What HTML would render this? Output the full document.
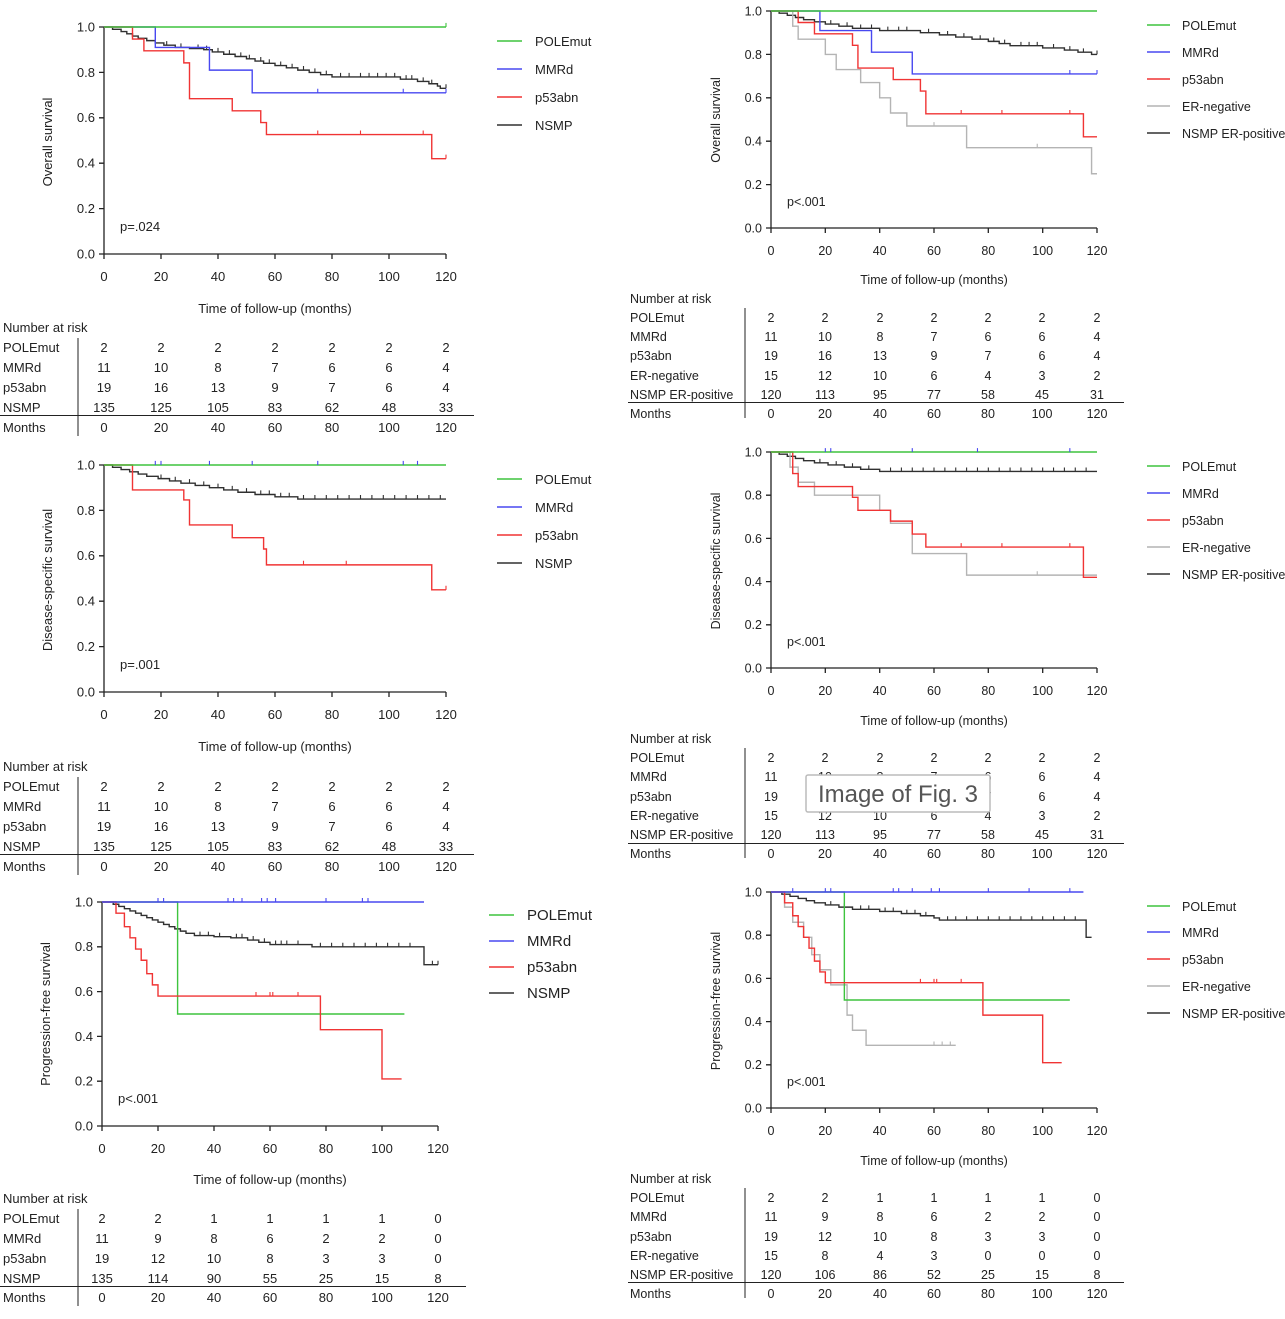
<!DOCTYPE html>
<html><head><meta charset="utf-8">
<style>
html,body{margin:0;padding:0;background:#fff;}
svg{display:block;font-family:"Liberation Sans",Arial,sans-serif;}
.t{font-size:13px;fill:#222;}
.r{font-size:12.5px;fill:#222;}
.c path{fill:none;vector-effect:non-scaling-stroke;stroke-width:1.4;}
.c .tk{stroke-width:1.1;}
.g{stroke:#3ec43e}.b{stroke:#4848f0}.rd{stroke:#f03434}.e{stroke:#b4b4b4}.k{stroke:#303030}
.ax{stroke:#222;stroke-width:1.3;fill:none}
</style></head>
<body>
<svg width="1285" height="1319" viewBox="0 0 1285 1319" xmlns="http://www.w3.org/2000/svg">
<rect width="1285" height="1319" fill="#fff"/>

<!-- ===== AXES ===== -->
<path class="ax" d="M104,27V254H446 M99,254H104M99,208.6H104M99,163.2H104M99,117.8H104M99,72.4H104M99,27H104 M104,254v5M161,254v5M218,254v5M275,254v5M332,254v5M389,254v5M446,254v5"/>
<path class="ax" d="M104,465V692H446 M99,692H104M99,646.6H104M99,601.2H104M99,555.8H104M99,510.4H104M99,465H104 M104,692v5M161,692v5M218,692v5M275,692v5M332,692v5M389,692v5M446,692v5"/>
<path class="ax" d="M102,902V1126H438 M97,1126H102M97,1081.2H102M97,1036.4H102M97,991.6H102M97,946.8H102M97,902H102 M102,1126v5M158,1126v5M214,1126v5M270,1126v5M326,1126v5M382,1126v5M438,1126v5"/>
<path class="ax" d="M771,11V228H1097 M766,228H771M766,184.6H771M766,141.2H771M766,97.8H771M766,54.4H771M766,11H771 M771,228v5M825.3,228v5M879.7,228v5M934,228v5M988.3,228v5M1042.7,228v5M1097,228v5"/>
<path class="ax" d="M771,452V668H1097 M766,668H771M766,624.8H771M766,581.6H771M766,538.4H771M766,495.2H771M766,452H771 M771,668v5M825.3,668v5M879.7,668v5M934,668v5M988.3,668v5M1042.7,668v5M1097,668v5"/>
<path class="ax" d="M771,892V1108H1097 M766,1108H771M766,1064.8H771M766,1021.6H771M766,978.4H771M766,935.2H771M766,892H771 M771,1108v5M825.3,1108v5M879.7,1108v5M934,1108v5M988.3,1108v5M1042.7,1108v5M1097,1108v5"/>

<!-- y tick labels -->
<g class="t" text-anchor="end">
<text x="95"><tspan x="95" y="258.5">0.0</tspan><tspan x="95" y="213">0.2</tspan><tspan x="95" y="167.5">0.4</tspan><tspan x="95" y="122">0.6</tspan><tspan x="95" y="77">0.8</tspan><tspan x="95" y="31.5">1.0</tspan></text>
<text x="95"><tspan x="95" y="696.5">0.0</tspan><tspan x="95" y="651">0.2</tspan><tspan x="95" y="605.5">0.4</tspan><tspan x="95" y="560">0.6</tspan><tspan x="95" y="515">0.8</tspan><tspan x="95" y="469.5">1.0</tspan></text>
<text x="93"><tspan x="93" y="1130.5">0.0</tspan><tspan x="93" y="1085.5">0.2</tspan><tspan x="93" y="1041">0.4</tspan><tspan x="93" y="996">0.6</tspan><tspan x="93" y="951">0.8</tspan><tspan x="93" y="906.5">1.0</tspan></text>
</g>
<g class="r" text-anchor="end">
<text x="762"><tspan x="762" y="232.5">0.0</tspan><tspan x="762" y="189">0.2</tspan><tspan x="762" y="145.5">0.4</tspan><tspan x="762" y="102">0.6</tspan><tspan x="762" y="59">0.8</tspan><tspan x="762" y="15.5">1.0</tspan></text>
<text x="762"><tspan x="762" y="672.5">0.0</tspan><tspan x="762" y="629">0.2</tspan><tspan x="762" y="586">0.4</tspan><tspan x="762" y="543">0.6</tspan><tspan x="762" y="499.5">0.8</tspan><tspan x="762" y="456.5">1.0</tspan></text>
<text x="762"><tspan x="762" y="1112.5">0.0</tspan><tspan x="762" y="1069">0.2</tspan><tspan x="762" y="1026">0.4</tspan><tspan x="762" y="983">0.6</tspan><tspan x="762" y="939.5">0.8</tspan><tspan x="762" y="896.5">1.0</tspan></text>
</g>
<!-- x tick labels -->
<g class="t" text-anchor="middle">
<text y="281"><tspan x="104">0</tspan><tspan x="161">20</tspan><tspan x="218">40</tspan><tspan x="275">60</tspan><tspan x="332">80</tspan><tspan x="389">100</tspan><tspan x="446">120</tspan></text>
<text y="719"><tspan x="104">0</tspan><tspan x="161">20</tspan><tspan x="218">40</tspan><tspan x="275">60</tspan><tspan x="332">80</tspan><tspan x="389">100</tspan><tspan x="446">120</tspan></text>
<text y="1153"><tspan x="102">0</tspan><tspan x="158">20</tspan><tspan x="214">40</tspan><tspan x="270">60</tspan><tspan x="326">80</tspan><tspan x="382">100</tspan><tspan x="438">120</tspan></text>
</g>
<g class="r" text-anchor="middle">
<text y="255"><tspan x="771">0</tspan><tspan x="825.3">20</tspan><tspan x="879.7">40</tspan><tspan x="934">60</tspan><tspan x="988.3">80</tspan><tspan x="1042.7">100</tspan><tspan x="1097">120</tspan></text>
<text y="695"><tspan x="771">0</tspan><tspan x="825.3">20</tspan><tspan x="879.7">40</tspan><tspan x="934">60</tspan><tspan x="988.3">80</tspan><tspan x="1042.7">100</tspan><tspan x="1097">120</tspan></text>
<text y="1135"><tspan x="771">0</tspan><tspan x="825.3">20</tspan><tspan x="879.7">40</tspan><tspan x="934">60</tspan><tspan x="988.3">80</tspan><tspan x="1042.7">100</tspan><tspan x="1097">120</tspan></text>
</g>

<!-- ===== CURVES ===== -->
<!-- L1 OS -->
<g class="c" transform="translate(104,254) scale(2.85,-2.27)">
<path class="k" d="M0,100H3V99H6V98H8V97H10V96H12V95H15V94H18V93H21V92H25V91H30V90.5H35V90H38V89H42V88H46V87H50V86H53V85H56V84H60V83H64V82H68V81H72V80H76V79H80V78H104V77H110V76H114V75H117V74H118V73H120"/>
<path class="k tk" d="M22,92v1.8M27,91v1.8M33,90.5v1.8M36,90v1.8M40,89v1.8M44,88v1.8M48,87v1.8M51,86v1.8M55,85v1.8M58,84v1.8M62,83v1.8M66,82v1.8M70,81v1.8M74,80v1.8M78,79v1.8M83,78v1.8M86,78v1.8M90,78v1.8M93,78v1.8M96,78v1.8M99,78v1.8M102,78v1.8M106,77v1.8M108,77v1.8M112,76v1.8M115,75v1.8M120,73v1.8"/>
<path class="b" d="M0,100H18V91H37V81H52V71H120"/>
<path class="b tk" d="M75,71v1.8M105,71v1.8M120,71v1.8"/>
<path class="rd" d="M0,100H10V94.7H14V89.5H28V84.2H30V68.4H45V63.1H55V57.9H57V52.6H115V42H120"/>
<path class="rd tk" d="M75,52.6v1.8M90,52.6v1.8M112,52.6v1.8M120,42v1.8"/>
<path class="g" d="M0,100H120"/>
<path class="g tk" d="M120,100v1.8"/>
</g>
<!-- L2 DSS -->
<g class="c" transform="translate(104,692) scale(2.85,-2.27)">
<path class="k" d="M0,100H3V99H6V98H9V97H12V96H15V95H19V94H23V93H27V92H32V91H37V90H42V89H47V88H53V87H60V86H68V85H120"/>
<path class="k tk" d="M20,94v1.8M25,93v1.8M30,92v1.8M35,91v1.8M40,90v1.8M45,89v1.8M50,88v1.8M55,87v1.8M58,87v1.8M62,86v1.8M65,86v1.8M70,85v1.8M74,85v1.8M78,85v1.8M82,85v1.8M86,85v1.8M90,85v1.8M94,85v1.8M98,85v1.8M102,85v1.8M106,85v1.8M110,85v1.8M114,85v1.8M118,85v1.8"/>
<path class="rd" d="M0,100H10V89H28V84.6H30V73.6H45V68H56V63H57V56H115V45H120"/>
<path class="rd tk" d="M70,56v1.8M85,56v1.8M120,45v1.8"/>
<path class="g" d="M0,100H120"/>
<path class="b tk" d="M18,100v1.8M20,100v1.8M37,100v1.8M52,100v1.8M75,100v1.8M105,100v1.8M110,100v1.8"/>
</g>
<!-- L3 PFS -->
<g class="c" transform="translate(102,1126) scale(2.8,-2.24)">
<path class="k" d="M0,100H4V99H6V98H8V97H10V96H12V95H14V94H16V93H18V92H20V91H22V90H24V89H26V88H28V87H30V86H33V85H40V84.5H46V84H52V83H56V82H60V81H75V80H115V72H120"/>
<path class="k tk" d="M35,85v1.8M38,85v1.8M42,84.5v1.8M48,84v1.8M50,84v1.8M54,83v1.8M58,82v1.8M62,81v1.8M64,81v1.8M66,81v1.8M70,81v1.8M78,80v1.8M82,80v1.8M86,80v1.8M90,80v1.8M94,80v1.8M98,80v1.8M102,80v1.8M106,80v1.8M110,80v1.8M118,72v1.8M120,72v1.8"/>
<path class="g" d="M0,100H27V50H108"/>
<path class="rd" d="M0,100H5V95H8V89H10V84H12V79H14V74H16V68H18V63H20V58H78V43H100V21H107"/>
<path class="rd tk" d="M55,58v1.8M60,58v1.8M61,58v1.8M70,58v1.8"/>
<path class="b" d="M0,100H115"/>
<path class="b tk" d="M20,100v1.8M22,100v1.8M45,100v1.8M47,100v1.8M50,100v1.8M57,100v1.8M59,100v1.8M62,100v1.8M80,100v1.8M93,100v1.8M95,100v1.8"/>
</g>
<!-- R1 OS -->
<g class="c" transform="translate(771,228) scale(2.7167,-2.17)">
<path class="k" d="M0,100H3V99H6V98H9V97H12V96H16V95H20V94H25V93H30V92H40V91H55V90H62V89H68V88H74V87H80V86H84V85H88V84H100V83H108V82H113V81H118V80H120"/>
<path class="k tk" d="M22,94v1.8M28,93v1.8M33,92v1.8M37,92v1.8M43,91v1.8M47,91v1.8M50,91v1.8M58,90v1.8M65,89v1.8M71,88v1.8M77,87v1.8M82,86v1.8M86,85v1.8M92,84v1.8M95,84v1.8M98,84v1.8M104,83v1.8M110,82v1.8M115,81v1.8M120,80v1.8"/>
<path class="e" d="M0,100H8V93H10V87H20V80H24V73H33V67H40V60H44V53H50V47H72V37H118V25H120"/>
<path class="e tk" d="M60,47v1.8M98,37v1.8"/>
<path class="b" d="M0,100H18V91H37V81H52V71H120"/>
<path class="b tk" d="M110,71v1.8M120,71v1.8"/>
<path class="rd" d="M0,100H10V94.7H16V89.5H30V84.2H32V73.7H45V68.4H55V63.1H57V52.6H115V42H120"/>
<path class="rd tk" d="M70,52.6v1.8M85,52.6v1.8M110,52.6v1.8"/>
<path class="g" d="M0,100H120"/>
</g>
<!-- R2 DSS -->
<g class="c" transform="translate(771,668) scale(2.7167,-2.16)">
<path class="k" d="M0,100H3V99H6V98H9V97H12V96H16V95H21V94H27V93H33V92H40V91H120"/>
<path class="k tk" d="M18,95v1.8M24,94v1.8M30,93v1.8M36,92v1.8M44,91v1.8M48,91v1.8M52,91v1.8M56,91v1.8M60,91v1.8M64,91v1.8M68,91v1.8M72,91v1.8M76,91v1.8M80,91v1.8M84,91v1.8M88,91v1.8M92,91v1.8M96,91v1.8M100,91v1.8M104,91v1.8M108,91v1.8M112,91v1.8M116,91v1.8"/>
<path class="e" d="M0,100H7V93H10V86H16V80H40V73H44V67H52V53H72V43H120"/>
<path class="e tk" d="M98,43v1.8"/>
<path class="rd" d="M0,100H8V90H10V84H30V79H32V73H44V68H52V62H57V56H115V42H120"/>
<path class="rd tk" d="M70,56v1.8M85,56v1.8M110,56v1.8"/>
<path class="g" d="M0,100H120"/>
<path class="b tk" d="M20,100v1.8M22,100v1.8M52,100v1.8M76,100v1.8M110,100v1.8"/>
</g>
<!-- R3 PFS -->
<g class="c" transform="translate(771,1108) scale(2.7167,-2.16)">
<path class="k" d="M0,100H4V99H7V98H10V97H13V96H16V95H20V94H25V93H30V92H40V91H48V90H55V89H60V88H62V87H116V79H118"/>
<path class="k tk" d="M22,94v1.8M27,93v1.8M33,92v1.8M36,92v1.8M42,91v1.8M45,91v1.8M50,90v1.8M53,90v1.8M57,89v1.8M65,87v1.8M68,87v1.8M72,87v1.8M76,87v1.8M80,87v1.8M84,87v1.8M88,87v1.8M92,87v1.8M96,87v1.8M100,87v1.8M104,87v1.8M108,87v1.8M112,87v1.8"/>
<path class="e" d="M0,100H5V93H8V86H12V79H15V71H18V64H22V57H28V43H30V36H35V29H68"/>
<path class="e tk" d="M60,29v1.8M63,29v1.8M66,29v1.8"/>
<path class="g" d="M0,100H27V50H110"/>
<path class="rd" d="M0,100H5V95H8V89H10V84H12V79H14V74H16V68H18V63H20V58H78V43H100V21H107"/>
<path class="rd tk" d="M55,58v1.8M60,58v1.8M61,58v1.8M70,58v1.8"/>
<path class="b" d="M0,100H115"/>
<path class="b tk" d="M8,100v1.8M20,100v1.8M22,100v1.8M45,100v1.8M47,100v1.8M52,100v1.8M59,100v1.8M62,100v1.8M80,100v1.8M95,100v1.8M110,100v1.8"/>
</g>

<!-- legend lines -->
<g stroke-width="1.6">
<path class="g" d="M497,41h25M497,479h25M489,915h25M1147,25h23M1147,466h23M1147,906h23"/>
<path class="b" d="M497,69h25M497,507h25M489,941h25M1147,52h23M1147,493h23M1147,932h23"/>
<path class="rd" d="M497,97h25M497,535h25M489,967h25M1147,79h23M1147,520h23M1147,959h23"/>
<path class="e" d="M1147,106h23M1147,547h23M1147,986h23"/>
<path class="k" d="M497,125h25M497,563h25M489,993h25M1147,133h23M1147,574h23M1147,1013h23"/>
</g>

<!-- left axis labels -->
<text class="t" transform="translate(52,142) rotate(-90)" text-anchor="middle">Overall survival</text>
<text class="t" x="275" y="313" text-anchor="middle">Time of follow-up (months)</text>
<text class="t" x="120" y="231">p=.024</text>
<text class="t" transform="translate(52,580) rotate(-90)" text-anchor="middle">Disease-specific survival</text>
<text class="t" x="275" y="751" text-anchor="middle">Time of follow-up (months)</text>
<text class="t" x="120" y="669">p=.001</text>
<text class="t" transform="translate(50,1014) rotate(-90)" text-anchor="middle">Progression-free survival</text>
<text class="t" x="270" y="1184" text-anchor="middle">Time of follow-up (months)</text>
<text class="t" x="118" y="1103">p&lt;.001</text>

<!-- right axis labels -->
<text class="r" transform="translate(720,120) rotate(-90)" text-anchor="middle">Overall survival</text>
<text class="r" x="934" y="284" text-anchor="middle">Time of follow-up (months)</text>
<text class="r" x="787" y="206">p&lt;.001</text>
<text class="r" transform="translate(720,561) rotate(-90)" text-anchor="middle">Disease-specific survival</text>
<text class="r" x="934" y="725" text-anchor="middle">Time of follow-up (months)</text>
<text class="r" x="787" y="646">p&lt;.001</text>
<text class="r" transform="translate(720,1001) rotate(-90)" text-anchor="middle">Progression-free survival</text>
<text class="r" x="934" y="1165" text-anchor="middle">Time of follow-up (months)</text>
<text class="r" x="787" y="1086">p&lt;.001</text>

<!-- legends -->
<g class="t">
<text x="535" y="46">POLEmut</text><text x="535" y="74">MMRd</text><text x="535" y="102">p53abn</text><text x="535" y="130">NSMP</text>
<text x="535" y="484">POLEmut</text><text x="535" y="512">MMRd</text><text x="535" y="540">p53abn</text><text x="535" y="568">NSMP</text>
</g>
<g style="font-size:15px;fill:#222">
<text x="527" y="920">POLEmut</text><text x="527" y="946">MMRd</text><text x="527" y="972">p53abn</text><text x="527" y="998">NSMP</text>
</g>
<g class="r">
<text x="1182" y="30">POLEmut</text><text x="1182" y="57">MMRd</text><text x="1182" y="84">p53abn</text><text x="1182" y="111">ER-negative</text><text x="1182" y="138">NSMP ER-positive</text>
<text x="1182" y="471">POLEmut</text><text x="1182" y="498">MMRd</text><text x="1182" y="525">p53abn</text><text x="1182" y="552">ER-negative</text><text x="1182" y="579">NSMP ER-positive</text>
<text x="1182" y="911">POLEmut</text><text x="1182" y="937">MMRd</text><text x="1182" y="964">p53abn</text><text x="1182" y="991">ER-negative</text><text x="1182" y="1018">NSMP ER-positive</text>
</g>

<!-- tables left -->
<g class="t">
<text x="3" y="332">Number at risk</text>
<text x="3" y="352">POLEmut</text><text x="3" y="372">MMRd</text><text x="3" y="392">p53abn</text><text x="3" y="412">NSMP</text><text x="3" y="432">Months</text>
<text x="3" y="771">Number at risk</text>
<text x="3" y="791">POLEmut</text><text x="3" y="811">MMRd</text><text x="3" y="831">p53abn</text><text x="3" y="851">NSMP</text><text x="3" y="871">Months</text>
<text x="3" y="1203">Number at risk</text>
<text x="3" y="1223">POLEmut</text><text x="3" y="1243">MMRd</text><text x="3" y="1263">p53abn</text><text x="3" y="1283">NSMP</text><text x="3" y="1302">Months</text>
</g>
<g class="t" text-anchor="middle">
<text y="352"><tspan x="104">2</tspan><tspan x="161">2</tspan><tspan x="218">2</tspan><tspan x="275">2</tspan><tspan x="332">2</tspan><tspan x="389">2</tspan><tspan x="446">2</tspan></text>
<text y="372"><tspan x="104">11</tspan><tspan x="161">10</tspan><tspan x="218">8</tspan><tspan x="275">7</tspan><tspan x="332">6</tspan><tspan x="389">6</tspan><tspan x="446">4</tspan></text>
<text y="392"><tspan x="104">19</tspan><tspan x="161">16</tspan><tspan x="218">13</tspan><tspan x="275">9</tspan><tspan x="332">7</tspan><tspan x="389">6</tspan><tspan x="446">4</tspan></text>
<text y="412"><tspan x="104">135</tspan><tspan x="161">125</tspan><tspan x="218">105</tspan><tspan x="275">83</tspan><tspan x="332">62</tspan><tspan x="389">48</tspan><tspan x="446">33</tspan></text>
<text y="432"><tspan x="104">0</tspan><tspan x="161">20</tspan><tspan x="218">40</tspan><tspan x="275">60</tspan><tspan x="332">80</tspan><tspan x="389">100</tspan><tspan x="446">120</tspan></text>

<text y="791"><tspan x="104">2</tspan><tspan x="161">2</tspan><tspan x="218">2</tspan><tspan x="275">2</tspan><tspan x="332">2</tspan><tspan x="389">2</tspan><tspan x="446">2</tspan></text>
<text y="811"><tspan x="104">11</tspan><tspan x="161">10</tspan><tspan x="218">8</tspan><tspan x="275">7</tspan><tspan x="332">6</tspan><tspan x="389">6</tspan><tspan x="446">4</tspan></text>
<text y="831"><tspan x="104">19</tspan><tspan x="161">16</tspan><tspan x="218">13</tspan><tspan x="275">9</tspan><tspan x="332">7</tspan><tspan x="389">6</tspan><tspan x="446">4</tspan></text>
<text y="851"><tspan x="104">135</tspan><tspan x="161">125</tspan><tspan x="218">105</tspan><tspan x="275">83</tspan><tspan x="332">62</tspan><tspan x="389">48</tspan><tspan x="446">33</tspan></text>
<text y="871"><tspan x="104">0</tspan><tspan x="161">20</tspan><tspan x="218">40</tspan><tspan x="275">60</tspan><tspan x="332">80</tspan><tspan x="389">100</tspan><tspan x="446">120</tspan></text>

<text y="1223"><tspan x="102">2</tspan><tspan x="158">2</tspan><tspan x="214">1</tspan><tspan x="270">1</tspan><tspan x="326">1</tspan><tspan x="382">1</tspan><tspan x="438">0</tspan></text>
<text y="1243"><tspan x="102">11</tspan><tspan x="158">9</tspan><tspan x="214">8</tspan><tspan x="270">6</tspan><tspan x="326">2</tspan><tspan x="382">2</tspan><tspan x="438">0</tspan></text>
<text y="1263"><tspan x="102">19</tspan><tspan x="158">12</tspan><tspan x="214">10</tspan><tspan x="270">8</tspan><tspan x="326">3</tspan><tspan x="382">3</tspan><tspan x="438">0</tspan></text>
<text y="1283"><tspan x="102">135</tspan><tspan x="158">114</tspan><tspan x="214">90</tspan><tspan x="270">55</tspan><tspan x="326">25</tspan><tspan x="382">15</tspan><tspan x="438">8</tspan></text>
<text y="1302"><tspan x="102">0</tspan><tspan x="158">20</tspan><tspan x="214">40</tspan><tspan x="270">60</tspan><tspan x="326">80</tspan><tspan x="382">100</tspan><tspan x="438">120</tspan></text>
</g>
<g stroke="#222" stroke-width="1">
<line x1="78" y1="338" x2="78" y2="436"/><line x1="0" y1="415.5" x2="474" y2="415.5"/>
<line x1="78" y1="777" x2="78" y2="875"/><line x1="0" y1="854.5" x2="474" y2="854.5"/>
<line x1="78" y1="1209" x2="78" y2="1306"/><line x1="0" y1="1286.5" x2="466" y2="1286.5"/>
<line x1="745" y1="308" x2="745" y2="418"/><line x1="628" y1="402.5" x2="1124" y2="402.5"/>
<line x1="745" y1="748" x2="745" y2="858"/><line x1="628" y1="843.5" x2="1124" y2="843.5"/>
<line x1="745" y1="1188" x2="745" y2="1298"/><line x1="628" y1="1282.5" x2="1124" y2="1282.5"/>
</g>

<!-- tables right -->
<g class="r">
<text x="630" y="303">Number at risk</text>
<text x="630" y="322">POLEmut</text><text x="630" y="341">MMRd</text><text x="630" y="360">p53abn</text><text x="630" y="380">ER-negative</text><text x="630" y="399">NSMP ER-positive</text><text x="630" y="418">Months</text>
<text x="630" y="743">Number at risk</text>
<text x="630" y="762">POLEmut</text><text x="630" y="781">MMRd</text><text x="630" y="801">p53abn</text><text x="630" y="820">ER-negative</text><text x="630" y="839">NSMP ER-positive</text><text x="630" y="858">Months</text>
<text x="630" y="1183">Number at risk</text>
<text x="630" y="1202">POLEmut</text><text x="630" y="1221">MMRd</text><text x="630" y="1241">p53abn</text><text x="630" y="1260">ER-negative</text><text x="630" y="1279">NSMP ER-positive</text><text x="630" y="1298">Months</text>
</g>
<g class="r" text-anchor="middle">
<text y="322"><tspan x="771">2</tspan><tspan x="825">2</tspan><tspan x="880">2</tspan><tspan x="934">2</tspan><tspan x="988">2</tspan><tspan x="1042">2</tspan><tspan x="1097">2</tspan></text>
<text y="341"><tspan x="771">11</tspan><tspan x="825">10</tspan><tspan x="880">8</tspan><tspan x="934">7</tspan><tspan x="988">6</tspan><tspan x="1042">6</tspan><tspan x="1097">4</tspan></text>
<text y="360"><tspan x="771">19</tspan><tspan x="825">16</tspan><tspan x="880">13</tspan><tspan x="934">9</tspan><tspan x="988">7</tspan><tspan x="1042">6</tspan><tspan x="1097">4</tspan></text>
<text y="380"><tspan x="771">15</tspan><tspan x="825">12</tspan><tspan x="880">10</tspan><tspan x="934">6</tspan><tspan x="988">4</tspan><tspan x="1042">3</tspan><tspan x="1097">2</tspan></text>
<text y="399"><tspan x="771">120</tspan><tspan x="825">113</tspan><tspan x="880">95</tspan><tspan x="934">77</tspan><tspan x="988">58</tspan><tspan x="1042">45</tspan><tspan x="1097">31</tspan></text>
<text y="418"><tspan x="771">0</tspan><tspan x="825">20</tspan><tspan x="880">40</tspan><tspan x="934">60</tspan><tspan x="988">80</tspan><tspan x="1042">100</tspan><tspan x="1097">120</tspan></text>

<text y="762"><tspan x="771">2</tspan><tspan x="825">2</tspan><tspan x="880">2</tspan><tspan x="934">2</tspan><tspan x="988">2</tspan><tspan x="1042">2</tspan><tspan x="1097">2</tspan></text>
<text y="781"><tspan x="771">11</tspan><tspan x="825">10</tspan><tspan x="880">8</tspan><tspan x="934">7</tspan><tspan x="988">6</tspan><tspan x="1042">6</tspan><tspan x="1097">4</tspan></text>
<text y="801"><tspan x="771">19</tspan><tspan x="825">16</tspan><tspan x="880">13</tspan><tspan x="934">9</tspan><tspan x="988">7</tspan><tspan x="1042">6</tspan><tspan x="1097">4</tspan></text>
<text y="820"><tspan x="771">15</tspan><tspan x="825">12</tspan><tspan x="880">10</tspan><tspan x="934">6</tspan><tspan x="988">4</tspan><tspan x="1042">3</tspan><tspan x="1097">2</tspan></text>
<text y="839"><tspan x="771">120</tspan><tspan x="825">113</tspan><tspan x="880">95</tspan><tspan x="934">77</tspan><tspan x="988">58</tspan><tspan x="1042">45</tspan><tspan x="1097">31</tspan></text>
<text y="858"><tspan x="771">0</tspan><tspan x="825">20</tspan><tspan x="880">40</tspan><tspan x="934">60</tspan><tspan x="988">80</tspan><tspan x="1042">100</tspan><tspan x="1097">120</tspan></text>

<text y="1202"><tspan x="771">2</tspan><tspan x="825">2</tspan><tspan x="880">1</tspan><tspan x="934">1</tspan><tspan x="988">1</tspan><tspan x="1042">1</tspan><tspan x="1097">0</tspan></text>
<text y="1221"><tspan x="771">11</tspan><tspan x="825">9</tspan><tspan x="880">8</tspan><tspan x="934">6</tspan><tspan x="988">2</tspan><tspan x="1042">2</tspan><tspan x="1097">0</tspan></text>
<text y="1241"><tspan x="771">19</tspan><tspan x="825">12</tspan><tspan x="880">10</tspan><tspan x="934">8</tspan><tspan x="988">3</tspan><tspan x="1042">3</tspan><tspan x="1097">0</tspan></text>
<text y="1260"><tspan x="771">15</tspan><tspan x="825">8</tspan><tspan x="880">4</tspan><tspan x="934">3</tspan><tspan x="988">0</tspan><tspan x="1042">0</tspan><tspan x="1097">0</tspan></text>
<text y="1279"><tspan x="771">120</tspan><tspan x="825">106</tspan><tspan x="880">86</tspan><tspan x="934">52</tspan><tspan x="988">25</tspan><tspan x="1042">15</tspan><tspan x="1097">8</tspan></text>
<text y="1298"><tspan x="771">0</tspan><tspan x="825">20</tspan><tspan x="880">40</tspan><tspan x="934">60</tspan><tspan x="988">80</tspan><tspan x="1042">100</tspan><tspan x="1097">120</tspan></text>
</g>

<!-- overlay -->
<rect x="806" y="775" width="184" height="37" fill="#fff" stroke="#bbb" stroke-width="1.5" rx="2"/>
<text x="898" y="802" text-anchor="middle" style="font-size:24px;fill:#555">Image of Fig. 3</text>
</svg>
</body></html>
